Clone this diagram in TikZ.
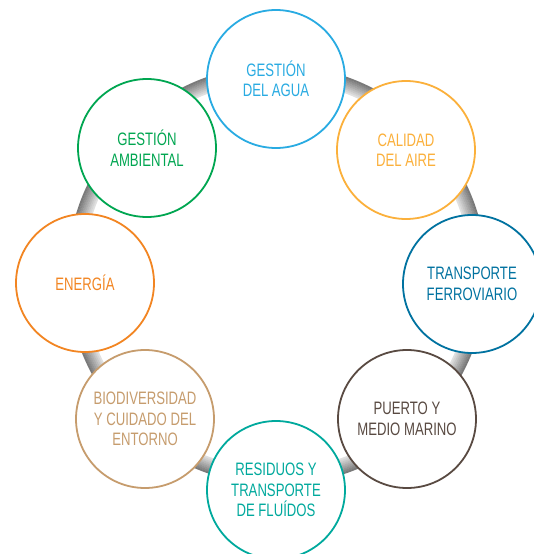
\documentclass[tikz,border=0pt]{standalone}
\usepackage{fontspec}
\setmainfont{Liberation Sans}[FakeStretch=0.73]
\usepackage{tikz}
\usetikzlibrary{positioning}
\definecolor{aguablue}{RGB}{41,171,226}
\definecolor{airegold}{RGB}{251,176,59}
\definecolor{ferroblue}{RGB}{0,114,160}
\definecolor{puertobrown}{RGB}{89,74,66}
\definecolor{residteal}{RGB}{0,169,157}
\definecolor{biotan}{RGB}{198,156,109}
\definecolor{energyorange}{RGB}{242,133,34}
\definecolor{ambgreen}{RGB}{0,166,81}
\tikzset{
  topic/.style={circle, draw=#1, text=#1, fill=white,
    minimum size=138pt, inner sep=0pt, align=center,
    font=\fontsize{18}{20.5}\selectfont, line width=1.8pt}
}
\begin{document}
\begin{tikzpicture}[x=1pt, y=-1pt]
  \useasboundingbox (0,0) rectangle (534,554);

  % Ring behind the circles
  \coordinate (hub) at (277,275);
  \foreach \i in {0,...,8}{
    \pgfmathtruncatemacro\shade{12+5*\i}
    \draw[black!\shade, line width=2pt] (hub) circle[radius=195+1.75*\i];
  }

  % Topics
  \node[topic=aguablue] (agua) at (276,79) {GESTIÓN\\DEL AGUA};
  \node[topic=airegold] (aire) at (406,150) {CALIDAD\\DEL AIRE};
  \node[topic=ferroblue] (ferro) at (472,284) {TRANSPORTE\\FERROVIARIO};
  \node[topic=puertobrown] (puerto) at (407,419) {PUERTO Y\\MEDIO MARINO};
  \node[topic=residteal] (resid) at (276,490) {RESIDUOS Y\\TRANSPORTE\\DE FLUÍDOS};
  \node[topic=biotan] (bio) at (145,419) {BIODIVERSIDAD\\Y CUIDADO DEL\\ENTORNO};
  \node[topic=energyorange] (energia) at (85,283) {ENERGÍA};
  \node[topic=ambgreen] (ambiental) at (147,148) {GESTIÓN\\AMBIENTAL};
\end{tikzpicture}
\end{document}
